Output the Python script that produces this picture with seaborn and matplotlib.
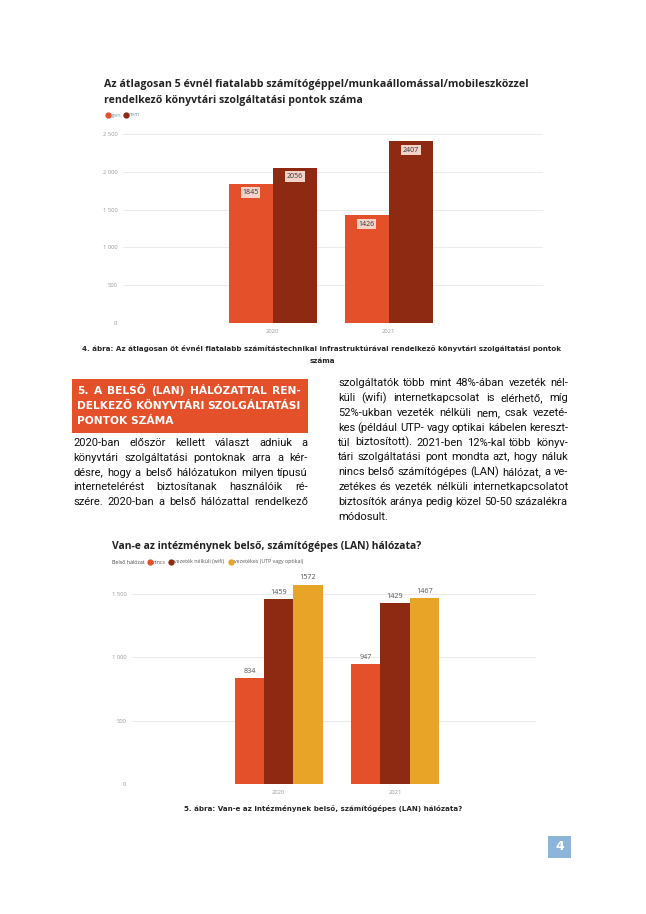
import matplotlib
matplotlib.use("Agg")
import matplotlib.pyplot as plt
import matplotlib.ticker as mticker
from matplotlib.lines import Line2D
from matplotlib.patches import Rectangle
import pandas as pd
import seaborn as sns

# ---- data ----
years = ["2020", "2021"]
igen = [1845, 1426]
nem = [2056, 2407]
nincs = [834, 947]
wifi = [1459, 1429]
vezetekes = [1572, 1467]

c_orange = "#E4502A"
c_dark = "#8E2A11"
c_yellow = "#E8A426"

title1 = ["Az átlagosan 5 évnél fiatalabb számítógéppel/munkaállomással/mobileszközzel",
          "rendelkező könyvtári szolgáltatási pontok száma"]
title2 = "Van-e az intézménynek belső, számítógépes (LAN) hálózata?"
caption4 = ["4. ábra: Az átlagosan öt évnél fiatalabb számítástechnikai infrastruktúrával rendelkező könyvtári szolgáltatási pontok",
            "száma"]
caption5 = "5. ábra: Van-e az intézménynek belső, számítógépes (LAN) hálózata?"
heading = ["5. A BELSŐ (LAN) HÁLÓZATTAL REN-",
           "DELKEZŐ KÖNYVTÁRI SZOLGÁLTATÁSI",
           "PONTOK SZÁMA"]
left_col = ["2020-ban először kellett választ adniuk a",
            "könyvtári szolgáltatási pontoknak arra a kér-",
            "désre, hogy a belső hálózatukon milyen típusú",
            "internetelérést biztosítanak használóik ré-",
            "szére. 2020-ban a belső hálózattal rendelkező"]
right_col = ["szolgáltatók több mint 48%-ában vezeték nél-",
             "küli (wifi) internetkapcsolat is elérhető, míg",
             "52%-ukban vezeték nélküli nem, csak vezeté-",
             "kes (például UTP- vagy optikai kábelen kereszt-",
             "tül biztosított). 2021-ben 12%-kal több könyv-",
             "tári szolgáltatási pont mondta azt, hogy náluk",
             "nincs belső számítógépes (LAN) hálózat, a ve-",
             "zetékes és vezeték nélküli internetkapcsolatot",
             "biztosítók aránya pedig közel 50-50 százalékra",
             "módosult."]

W, H = 646, 914
sns.set_theme(style="white")
plt.rcParams["font.family"] = ["DejaVu Sans"]
fig = plt.figure(figsize=(W / 100, H / 100), dpi=100)
fig.patch.set_facecolor("white")
renderer = fig.canvas.get_renderer()


def px(x):
    return x / W


def py(y):
    return 1 - y / H


def measure(s, size, **kw):
    t = fig.text(0, 0, s, fontsize=size, **kw)
    w = t.get_window_extent(renderer).width
    t.remove()
    return w


def fit_text(x, y, s, width, **kw):
    size = 10 * width / measure(s, 10, **kw)
    return fig.text(px(x), py(y), s, fontsize=size, va="center", **kw)


def justified(lines, x0, x1, y0, dy, size, justify_last=False, **kw):
    for i, line in enumerate(lines):
        y = py(y0 + i * dy)
        words = line.split(" ")
        if (i == len(lines) - 1 and not justify_last) or len(words) == 1:
            fig.text(px(x0), y, line, fontsize=size, va="center", **kw)
            continue
        texts = [fig.text(0, y, w, fontsize=size, va="center", **kw) for w in words]
        widths = [t.get_window_extent(renderer).width for t in texts]
        gap = (x1 - x0 - sum(widths)) / (len(words) - 1)
        x = x0
        for t, w in zip(texts, widths):
            t.set_x(px(x))
            x += w + gap


def style_axes(ax, ylim, ticks, xlim):
    ax.set_ylim(*ylim)
    ax.set_xlim(*xlim)
    ax.set_yticks(ticks)
    ax.yaxis.set_major_formatter(mticker.FuncFormatter(lambda v, p: f"{int(v):,}".replace(",", " ")))
    ax.grid(axis="y", color="#EBEBEB", linewidth=0.7)
    ax.set_axisbelow(True)
    for s in ax.spines.values():
        s.set_visible(False)
    ax.tick_params(length=0, labelsize=4.2, colors="#9A9A9A", pad=4)
    for lab in ax.get_xticklabels() + ax.get_yticklabels():
        lab.set_fontfamily("Open Sans")
    ax.set_xlabel("")
    ax.set_ylabel("")


# ---- chart 1 ----
df1 = pd.DataFrame({"year": years * 2,
                    "value": igen + nem,
                    "series": ["igen"] * 2 + ["nem"] * 2})
ax1 = fig.add_axes([px(123), py(323), 420 / W, 189 / H])
sns.barplot(data=df1, x="year", y="value", hue="series", hue_order=["igen", "nem"],
            palette=[c_orange, c_dark], width=0.76, gap=0, saturation=1,
            linewidth=0, edgecolor="none", legend=False, ax=ax1)
style_axes(ax1, (0, 2500), [0, 500, 1000, 1500, 2000, 2500], (-1.29, 2.33))
for cont in ax1.containers:
    for p in cont:
        h = p.get_height()
        ax1.annotate(f"{h:.0f}", (p.get_x() + p.get_width() / 2, h), xytext=(0, -6.5),
                     textcoords="offset points", ha="center", va="center",
                     fontsize=5, color="#333333", family="Open Sans",
                     bbox=dict(boxstyle="square,pad=0.25", fc="#F3D3C9", ec="none"))

fit_text(104, 84, title1[0], 421, weight="bold", family="Open Sans", color="#222222")
fit_text(104, 100, title1[1], 256, weight="bold", family="Open Sans", color="#222222")
for x, col, lab in [(108, c_orange, "igen"), (126, c_dark, "nem")]:
    fig.add_artist(Line2D([px(x)], [py(115)], marker="o", markersize=3.5, color=col,
                          transform=fig.transFigure))
    fig.text(px(x + 2.5), py(115), lab, fontsize=3.8, color="#6E98A6", va="center",
             family="Open Sans")

cap_size = 10 * 480 / measure(caption4[0], 10, weight="bold")
fig.text(px(322), py(348), caption4[0], fontsize=cap_size, weight="bold", ha="center", va="center")
fig.text(px(322), py(361), caption4[1], fontsize=cap_size, weight="bold", ha="center", va="center")

# ---- text section ----
fig.add_artist(Rectangle((px(72), py(433)), 236 / W, 54 / H, transform=fig.transFigure,
                         fc=c_orange, ec="none"))
head_size = 10 * 224 / measure(heading[1], 10, weight="bold")
justified(heading, 77, 301, 391, 15, head_size, justify_last=False, weight="bold", color="white")

body_font = "Roboto"
body_lines = left_col + right_col[:-1]
body_size = min(10 * 235 / measure(l, 10, family=body_font) for l in body_lines) * 0.99
justified(left_col, 73, 308, 443, 14.8, body_size, justify_last=True, color="#111111", family=body_font)
justified(right_col, 338, 568, 383.5, 14.8, body_size, color="#111111", family=body_font)

# ---- chart 2 ----
df2 = pd.DataFrame({"year": years * 3,
                    "value": nincs + wifi + vezetekes,
                    "series": ["nincs"] * 2 + ["wifi"] * 2 + ["vezetekes"] * 2})
ax2 = fig.add_axes([px(132), py(784), 404 / W, 209 / H])
sns.barplot(data=df2, x="year", y="value", hue="series", hue_order=["nincs", "wifi", "vezetekes"],
            palette=[c_orange, c_dark, c_yellow], width=0.755, gap=0, saturation=1,
            linewidth=0, edgecolor="none", legend=False, ax=ax2)
style_axes(ax2, (0, 1650), [0, 500, 1000, 1500], (-1.26, 2.21))
for cont in ax2.containers:
    ax2.bar_label(cont, fmt="%.0f", padding=2.5, fontsize=5.2, color="#555555", family="Open Sans")

fit_text(112, 547, title2, 312, weight="bold", family="Open Sans", color="#222222")
fig.text(px(112), py(562), "Belső hálózat", fontsize=3.8, color="#444444", va="center", family="Open Sans")
for x, col, lab in [(150, c_orange, "nincs"), (171, c_dark, "vezeték nélküli (wifi)"),
                    (231, c_yellow, "vezetékes (UTP vagy optikai)")]:
    fig.add_artist(Line2D([px(x)], [py(562)], marker="o", markersize=3.5, color=col,
                          transform=fig.transFigure))
    fig.text(px(x + 2.5), py(562), lab, fontsize=3.8, color="#555555", va="center",
             family="Open Sans")

fig.text(px(323), py(808), caption5, fontsize=cap_size, weight="bold", ha="center", va="center")

# ---- page number ----
fig.add_artist(Rectangle((px(548), py(858)), 23 / W, 22 / H, transform=fig.transFigure,
                         fc="#8DB4DA", ec="none"))
fig.text(px(559.5), py(847), "4", fontsize=9, weight="bold", color="white", ha="center", va="center")

fig.savefig("out.png", dpi=100, facecolor="white")
